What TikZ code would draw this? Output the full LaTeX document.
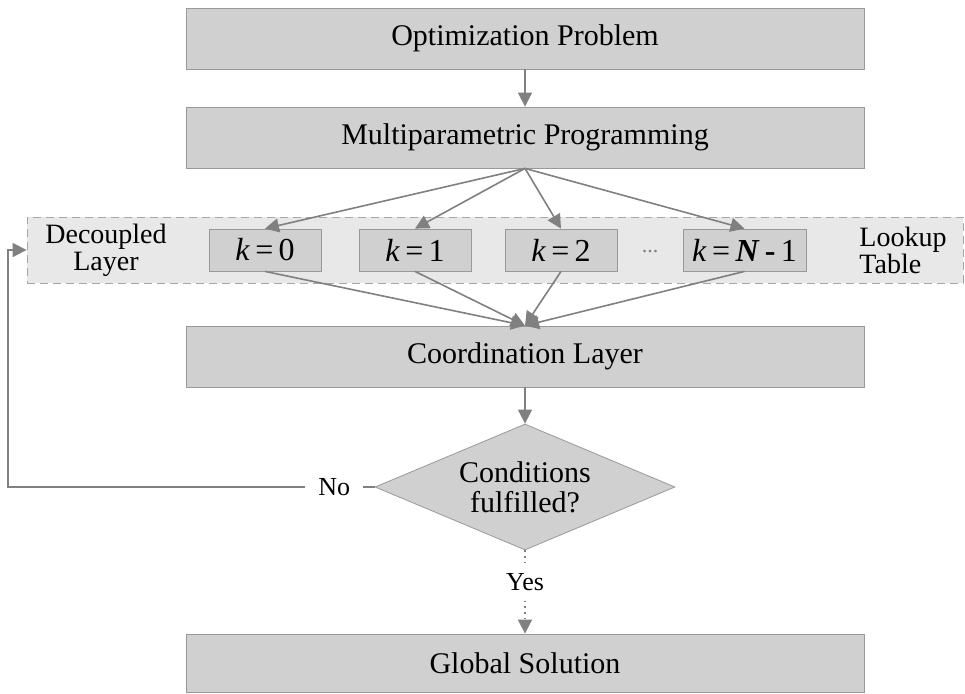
\documentclass[tikz,border=0pt]{standalone}
\usepackage{fontspec}
\setmainfont{Liberation Serif}
\usetikzlibrary{shapes.geometric,arrows.meta}
\definecolor{linegray}{HTML}{808080}
\definecolor{boxgray}{HTML}{D0D0D0}
\definecolor{tablegray}{HTML}{E8E8E8}

\begin{document}
\begin{tikzpicture}[x=0.5pt,y=-0.5pt,
	every node/.style={font=\fontsize{15}{15}\selectfont},
	block/.style={draw=gray!80,fill=boxgray,minimum width=339pt,minimum height=30.5pt,inner sep=0pt},
	kbox/.style={draw=gray!80,fill=boxgray,minimum width=56pt,minimum height=21pt,inner sep=0pt,font=\fontsize{16}{16}\selectfont},
	arr/.style={draw=linegray,line width=0.8pt,-{Triangle[length=7pt,width=7pt]}},
	lbl/.style={fill=white,inner xsep=6.5pt,font=\fontsize{13}{13}\selectfont}]
	\useasboundingbox (0,0) rectangle (965,693);
	\node[block] (prob) at (525,38.5) {Optimization Problem};
	\node[block] (mpp) at (525,137.5) {Multiparametric Programming};
	\node[draw=gray!70,dash pattern=on 4pt off 2.5pt,fill=tablegray,minimum width=468pt,minimum height=33pt] (lookup) at (495,250) {};
	\node[align=center,font=\fontsize{14}{13.5}\selectfont] (decoupled) at (106,250) {Decoupled\\Layer};
	\node[align=left,font=\fontsize{14}{13.5}\selectfont] (table) at (903,250) {Lookup\\Table};
	\node[kbox] (k0) at (265,250) {\textit{k}\,=\,0};
	\node[kbox] (k1) at (415,250) {\textit{k}\,=\,1};
	\node[kbox] (k2) at (561,250) {\textit{k}\,=\,2};
	\node[text=gray,font=\fontsize{11}{11}\selectfont] (dots) at (650,252) {...};
	\node[kbox,minimum width=61.5pt] (kN) at (744.5,250) {\textit{k}\,=\,\textbf{\textit{N}}\,\textbf{-}\,1};
	\node[block] (coord) at (525,356.5) {Coordination Layer};
	\node[diamond,draw=gray!80,fill=boxgray,aspect=2.4,minimum width=150pt,minimum height=63pt,inner sep=0pt,align=center] (cond) at (525,487) {Conditions\\fulfilled?};
	\node[block,minimum height=29pt] (sol) at (525,663) {Global Solution};
	\coordinate (back) at (8,487);

	\draw[arr] (prob) -- (mpp);
	\foreach \k in {k0,k1,k2,kN} {
		\draw[arr] (mpp.south) -- (\k.north);
		\draw[arr] (\k.south) -- (coord.north);
	}
	\draw[arr] (coord) -- (cond);
	\draw[arr] (cond.west) -- node[lbl,pos=0.11] (no) {No} (back) |- (lookup.west);
	\draw[arr,dotted] (cond.south) -- node[lbl,pos=0.38] (yes) {Yes} (sol.north);
\end{tikzpicture}
\end{document}
